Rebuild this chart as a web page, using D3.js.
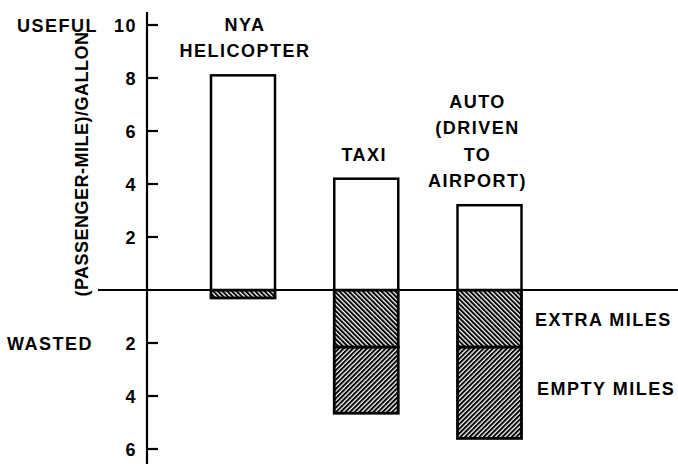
<!DOCTYPE html>
<html>
<head>
<meta charset="utf-8">
<script src="https://cdn.jsdelivr.net/npm/d3@7"></script>
<style>
  body { margin: 0; background: #fff; }
  text { font-family: "Liberation Sans", Arial, sans-serif; font-weight: bold; font-size: 18px; fill: #000; letter-spacing: 1.5px; }
</style>
</head>
<body>
<div id="chart"></div>
<script>
var categories = ["NYA HELICOPTER", "TAXI", "AUTO (DRIVEN TO AIRPORT)"];
var categoryLines = [["NYA", "HELICOPTER"], ["TAXI"], ["AUTO", "(DRIVEN", "TO", "AIRPORT)"]];
var useful = [8.1, 4.2, 3.2];
var extraMiles = [0.3, 2.15, 2.15];
var emptyMiles = [0, 2.5, 3.45];
var usefulTicks = [2, 4, 6, 8, 10];
var wastedTicks = [-2, -4, -6];

var width = 678,
  height = 467;

var svg = d3.select("#chart")
  .append("svg")
  .attr("width", width)
  .attr("height", height);

var defs = svg.append("defs");

function hatch(id, angle) {
  var p = defs.append("pattern")
    .attr("id", id)
    .attr("patternUnits", "userSpaceOnUse")
    .attr("width", 3.3)
    .attr("height", 3.3)
    .attr("patternTransform", "rotate(" + angle + ")");
  p.append("rect").attr("width", 3.3).attr("height", 3.3).attr("fill", "#fff");
  p.append("line")
    .attr("x1", 1).attr("y1", 0).attr("x2", 1).attr("y2", 3.3)
    .attr("stroke", "#000").attr("stroke-width", 2);
}
hatch("extra", -45);
hatch("empty", 45);

var axisX = 147;
var y = d3.scaleLinear().domain([-6, 10]).range([449, 25]);
var x = d3.scalePoint().domain(categories).range([243, 489.5]);
var barW = 64;

// vertical axis
svg.append("line")
  .attr("x1", axisX).attr("x2", axisX)
  .attr("y1", 12).attr("y2", 464)
  .attr("stroke", "#000").attr("stroke-width", 2.2);

var ticks = usefulTicks.concat(wastedTicks);
svg.selectAll(".tick")
  .data(ticks)
  .enter().append("line")
  .attr("class", "tick")
  .attr("x1", axisX).attr("x2", axisX + 11)
  .attr("y1", function(d) { return y(d); })
  .attr("y2", function(d) { return y(d); })
  .attr("stroke", "#000").attr("stroke-width", 2.2);

svg.selectAll(".ticklabel")
  .data(ticks)
  .enter().append("text")
  .attr("class", "ticklabel")
  .attr("x", 137)
  .attr("y", function(d) { return y(d) + 6.5; })
  .attr("text-anchor", "end")
  .text(function(d) { return Math.abs(d); });

svg.append("text").attr("x", 17).attr("y", y(10) + 6.5).text("USEFUL");
svg.append("text").attr("x", 7).attr("y", y(-2) + 6.5).text("WASTED");

svg.append("text")
  .attr("transform", "translate(88," + 164 + ") rotate(-90)")
  .attr("text-anchor", "middle")
  .style("letter-spacing", "0.5px")
  .text("(PASSENGER-MILE)/GALLON");

// bars
var useRows = categories.map(function(c, i) {
  return { cat: c, useful: useful[i], extra: extraMiles[i], empty: emptyMiles[i], lines: categoryLines[i], i: i };
});

svg.selectAll(".empty")
  .data(useRows.filter(function(d) { return d.empty > 0; }))
  .enter().append("rect")
  .attr("class", "empty")
  .attr("x", function(d) { return x(d.cat) - barW / 2; })
  .attr("y", function(d) { return y(-d.extra); })
  .attr("width", barW)
  .attr("height", function(d) { return y(-d.extra - d.empty) - y(-d.extra); })
  .attr("fill", "url(#empty)")
  .attr("stroke", "#000").attr("stroke-width", 2.8);

svg.selectAll(".extra")
  .data(useRows)
  .enter().append("rect")
  .attr("class", "extra")
  .attr("x", function(d) { return x(d.cat) - barW / 2; })
  .attr("y", y(0))
  .attr("width", barW)
  .attr("height", function(d) { return y(-d.extra) - y(0); })
  .attr("fill", "url(#extra)")
  .attr("stroke", "#000").attr("stroke-width", 2.8);

svg.selectAll(".useful")
  .data(useRows)
  .enter().append("rect")
  .attr("class", "useful")
  .attr("x", function(d) { return x(d.cat) - barW / 2; })
  .attr("y", function(d) { return y(d.useful); })
  .attr("width", barW)
  .attr("height", function(d) { return y(0) - y(d.useful); })
  .attr("fill", "#fff")
  .attr("stroke", "#000").attr("stroke-width", 2.5);

// zero line
svg.append("line")
  .attr("x1", 98).attr("x2", width)
  .attr("y1", y(0)).attr("y2", y(0))
  .attr("stroke", "#000").attr("stroke-width", 2.2);

// category labels
var labelShift = [2, -2, -12];
useRows.forEach(function(d) {
  var n = d.lines.length;
  d.lines.forEach(function(line, k) {
    svg.append("text")
      .attr("x", x(d.cat) + labelShift[d.i])
      .attr("y", y(d.useful) - 18 - (n - 1 - k) * 26.5)
      .attr("text-anchor", "middle")
      .text(line);
  });
});

// segment labels
svg.append("text").attr("x", 535).attr("y", y(-1.1) + 6.5).text("EXTRA MILES");
svg.append("text").attr("x", 537).attr("y", y(-3.7) + 6.5).text("EMPTY MILES");
</script>
</body>
</html>
